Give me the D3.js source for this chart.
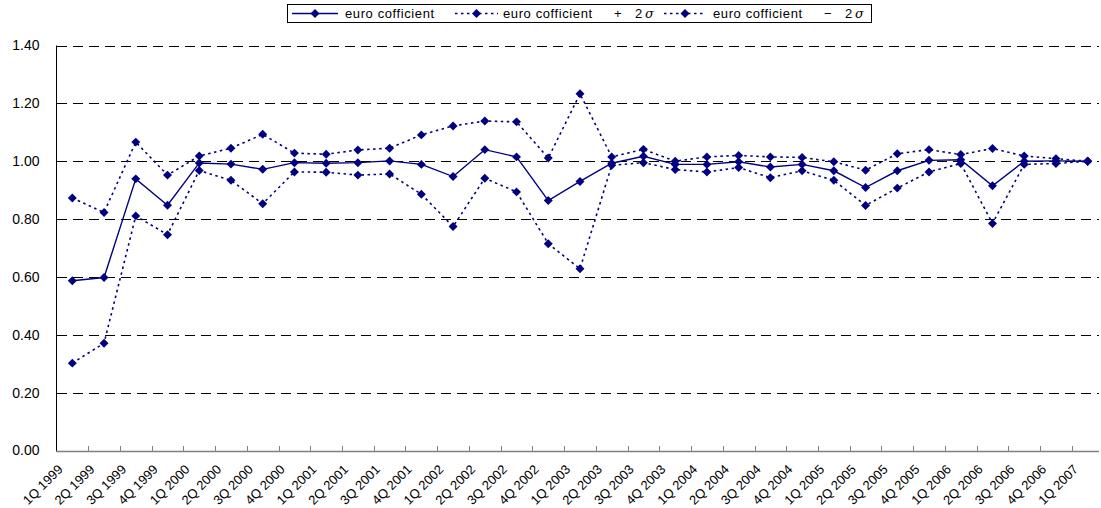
<!DOCTYPE html>
<html>
<head>
<meta charset="utf-8">
<script src="https://cdn.jsdelivr.net/npm/d3@7/dist/d3.min.js"></script>
<style>
  html, body { margin: 0; padding: 0; background: #fff; }
  svg { display: block; font-family: "Liberation Sans", Arial, sans-serif; }
</style>
</head>
<body>
<svg id="chart" width="1101" height="508"></svg>
<script>
const categories = [
  "1Q 1999","2Q 1999","3Q 1999","4Q 1999",
  "1Q 2000","2Q 2000","3Q 2000","4Q 2000",
  "1Q 2001","2Q 2001","3Q 2001","4Q 2001",
  "1Q 2002","2Q 2002","3Q 2002","4Q 2002",
  "1Q 2003","2Q 2003","3Q 2003","4Q 2003",
  "1Q 2004","2Q 2004","3Q 2004","4Q 2004",
  "1Q 2005","2Q 2005","3Q 2005","4Q 2005",
  "1Q 2006","2Q 2006","3Q 2006","4Q 2006",
  "1Q 2007"
];
const euroCoef = [
  0.587, 0.598, 0.939, 0.848,
  0.994, 0.990, 0.972, 0.995,
  0.993, 0.995, 1.001, 0.989,
  0.947, 1.040, 1.015, 0.864,
  0.930, 0.993, 1.017, 0.989,
  0.989, 0.998, 0.980, 0.989,
  0.967, 0.909, 0.967, 1.003,
  1.005, 0.915, 1.000, 1.001,
  1.000
];
const euroCoefPlus = [
  0.873, 0.823, 1.066, 0.952,
  1.018, 1.045, 1.093, 1.028,
  1.024, 1.039, 1.045, 1.091,
  1.122, 1.139, 1.136, 1.011,
  1.233, 1.015, 1.041, 1.000,
  1.015, 1.020, 1.015, 1.013,
  0.998, 0.969, 1.026, 1.040,
  1.023, 1.044, 1.018, 1.009,
  1.000
];
const euroCoefMinus = [
  0.302, 0.371, 0.811, 0.746,
  0.968, 0.934, 0.853, 0.963,
  0.962, 0.952, 0.956, 0.886,
  0.774, 0.941, 0.894, 0.715,
  0.628, 0.986, 0.995, 0.971,
  0.963, 0.978, 0.943, 0.967,
  0.934, 0.847, 0.907, 0.963,
  0.992, 0.785, 0.989, 0.992,
  1.000
];
const yTicks = [0, 0.2, 0.4, 0.6, 0.8, 1.0, 1.2, 1.4];
const seriesNames = ["euro cofficient", "euro cofficient", "euro cofficient"];
const seriesSuffix = [null, "+", "\u2212"];

const svg = d3.select("#chart");
const navy = "#000080";

const x = d3.scaleBand().domain(categories).range([56.45, 56.45 + 33 * 31.73]).padding(0);
const y = d3.scaleLinear().domain([0, 1.4]).range([450.5, 45.5]);
const cx = d => x(d) + x.bandwidth() / 2;
const gridRight = 1099;

// gridlines
svg.append("g").selectAll("line").data(yTicks.filter(t => t > 0)).join("line")
  .attr("x1", 57).attr("x2", gridRight)
  .attr("y1", d => Math.round(y(d)) + 0.5).attr("y2", d => Math.round(y(d)) + 0.5)
  .attr("stroke", "#000").attr("stroke-width", 1)
  .attr("stroke-dasharray", "10,6");

// y axis line + labels
const yAxis = d3.axisLeft(y).tickValues(yTicks).tickFormat(d3.format(".2f")).tickSize(0).tickPadding(17);
const gy = svg.append("g").attr("transform", "translate(56.5,0)").call(yAxis);
gy.select(".domain").attr("stroke", "#000").attr("d", `M0,${y(1.4)}V${Math.round(y(0)) + 0.5}`);
gy.selectAll("text").attr("font-size", 14).attr("fill", "#000")
  .attr("font-family", "'Liberation Sans', Arial, sans-serif");

// x axis
const xAxisG = svg.append("g");
xAxisG.append("line").attr("x1", 56).attr("x2", gridRight)
  .attr("y1", Math.round(y(0)) + 0.5).attr("y2", Math.round(y(0)) + 0.5)
  .attr("stroke", "#808080").attr("stroke-width", 1.5);
xAxisG.selectAll("line.tick").data(categories).join("line")
  .attr("class", "tick")
  .attr("x1", (d, i) => Math.round(x(d) + x.bandwidth()) + 0.5)
  .attr("x2", (d, i) => Math.round(x(d) + x.bandwidth()) + 0.5)
  .attr("y1", Math.round(y(0)) - 5).attr("y2", Math.round(y(0)))
  .attr("stroke", "#808080").attr("stroke-width", 1);
xAxisG.selectAll("text").data(categories).join("text")
  .attr("transform", d => `translate(${cx(d) - 12},${467}) rotate(-45)`)
  .attr("text-anchor", "end").attr("dy", "0.35em")
  .attr("font-size", 13).attr("fill", "#000")
  .text(d => d);

// series
const lineGen = d3.line().x((d, i) => cx(categories[i])).y(d => y(d));
const diamond = d3.symbol().type(d3.symbolSquare).size(40);

function drawSeries(vals, dashed) {
  const g = svg.append("g");
  g.append("path").datum(vals).attr("d", lineGen)
    .attr("fill", "none").attr("stroke", navy)
    .attr("stroke-width", dashed ? 1.6 : 1.4)
    .attr("stroke-dasharray", dashed ? "2.5,3.5" : null);
  g.selectAll("path.m").data(vals).join("path").attr("class", "m")
    .attr("d", diamond)
    .attr("transform", (d, i) => `translate(${cx(categories[i])},${y(d)}) rotate(45)`)
    .attr("fill", navy);
}
drawSeries(euroCoefMinus, true);
drawSeries(euroCoefPlus, true);
drawSeries(euroCoef, false);

// legend
const lg = svg.append("g");
lg.append("rect").attr("x", 287.5).attr("y", 4.5).attr("width", 584).attr("height", 18)
  .attr("fill", "#fff").attr("stroke", "#000").attr("stroke-width", 1);
const legendItems = [
  { x0: 292, x1: 338, tx: 345, dashed: false },
  { x0: 455, x1: 498, tx: 503, dashed: true },
  { x0: 664, x1: 706, tx: 713, dashed: true }
];
legendItems.forEach((it, i) => {
  lg.append("line").attr("x1", it.x0).attr("x2", it.x1).attr("y1", 13.5).attr("y2", 13.5)
    .attr("stroke", navy).attr("stroke-width", it.dashed ? 1.6 : 1.4)
    .attr("stroke-dasharray", it.dashed ? "2.5,3.5" : null);
  lg.append("path").attr("d", diamond)
    .attr("transform", `translate(${(it.x0 + it.x1) / 2},13.5) rotate(45)`).attr("fill", navy);
  const t = lg.append("text").attr("y", 13.5).attr("dy", "0.35em")
    .attr("font-size", 13).attr("fill", "#000").attr("letter-spacing", "0.6px");
  t.append("tspan").attr("x", it.tx).text(seriesNames[i]);
  if (seriesSuffix[i]) {
    t.append("tspan").attr("x", it.tx + 111).text(seriesSuffix[i]);
    t.append("tspan").attr("x", it.tx + 132).text("2");
    t.append("tspan").attr("x", it.tx + 142).attr("font-style", "italic")
      .attr("font-family", "'DejaVu Serif', serif").text("\u03c3");
  }
});
</script>
</body>
</html>
